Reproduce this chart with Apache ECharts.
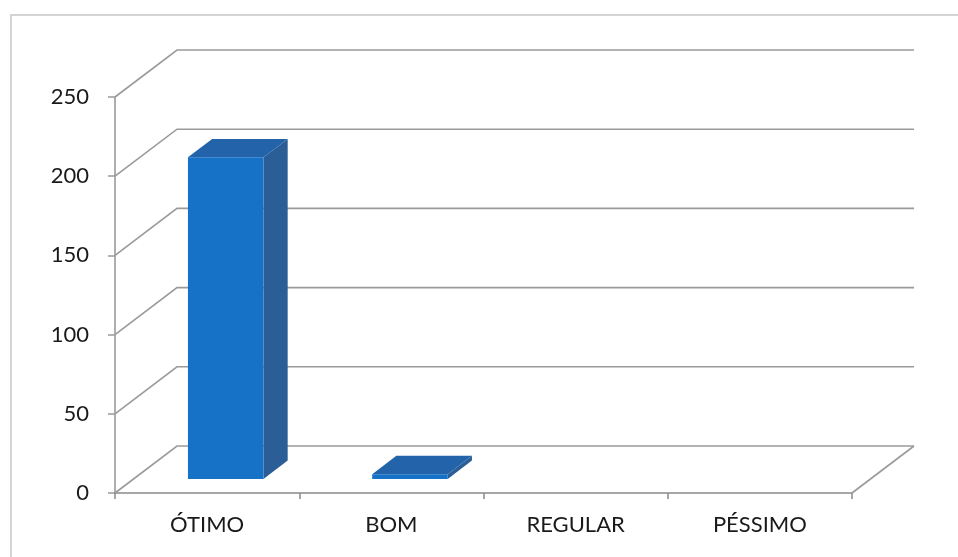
<!DOCTYPE html>
<html>
<head>
<meta charset="utf-8">
<script src="https://cdn.jsdelivr.net/npm/echarts@6/dist/echarts.min.js"></script>
<style>
html,body{margin:0;padding:0;background:#fff;}
#chart{width:958px;height:557px;}
</style>
</head>
<body>
<div id="chart"></div>
<script>
// ---- data ----
var categories = ['ÓTIMO', 'BOM', 'REGULAR', 'PÉSSIMO'];
var values = [203, 3, 0, 0];
var yTicks = [0, 50, 100, 150, 200, 250];

// ---- 3D look (styling constants) ----
var DX = 62, DY = -47;       // depth offset of back wall
var F0 = 0.30, F1 = 0.69;    // bar depth position (fraction of depth)
var BAR_W = 0.41;            // bar width as fraction of category band
var gridColor = '#9a9a9a';

var chart = echarts.init(document.getElementById('chart'));

function wallItem(params, api) {
  var cs = params.coordSys;
  var v = api.value(0);
  var y = api.coord([0, v])[1];
  var x0 = cs.x, x1 = cs.x + cs.width;
  var children = [{
    type: 'polyline',
    shape: { points: [[x0, y], [x0 + DX, y + DY], [x1 + DX, y + DY]] },
    style: { stroke: gridColor, lineWidth: 1.6, fill: null }
  }];
  if (v === 0) {
    children.push({
      type: 'line',
      shape: { x1: x1, y1: y, x2: x1 + DX, y2: y + DY },
      style: { stroke: gridColor, lineWidth: 1.6 }
    });
  }
  return { type: 'group', children: children };
}

function barItem(params, api) {
  var idx = api.value(0), v = api.value(1);
  if (!(v > 0)) return null;
  var base = api.coord([idx, 0]);
  var top = api.coord([idx, v]);
  var band = api.size([1, 0])[0];
  var w = band * BAR_W;
  var L = base[0] - w / 2 + F0 * DX;
  var R = L + w;
  var yb = base[1] + F0 * DY;
  var yt = top[1] + F0 * DY;
  var ddx = (F1 - F0) * DX, ddy = (F1 - F0) * DY;
  return {
    type: 'group',
    children: [
      { type: 'polygon', shape: { points: [[R, yb], [R + ddx, yb + ddy], [R + ddx, yt + ddy], [R, yt]] },
        style: { fill: '#2b5e96' } },
      { type: 'polygon', shape: { points: [[L, yt], [R, yt], [R + ddx, yt + ddy], [L + ddx, yt + ddy]] },
        style: { fill: '#2263aa' } },
      { type: 'polygon', shape: { points: [[L, yb], [R, yb], [R, yt], [L, yt]] },
        style: { fill: '#1672c7' } }
    ]
  };
}

var option = {
  backgroundColor: '#ffffff',
  animation: false,
  textStyle: { fontFamily: 'Lato' },
  graphic: [{
    type: 'rect', z: -10,
    shape: { x: 11, y: 15, width: 1000, height: 600 },
    style: { fill: null, stroke: '#d4d4d4', lineWidth: 2 }
  }],
  grid: { left: 115, top: 97, width: 737, height: 396 },
  xAxis: {
    type: 'category',
    data: categories,
    axisLine: { lineStyle: { color: '#8a8a8a', width: 1.6 } },
    axisTick: { show: true, length: 6, lineStyle: { color: '#8a8a8a', width: 1.5 } },
    axisLabel: { color: '#1a1a1a', fontSize: 22, margin: 21, fontFamily: 'Lato' },
    splitLine: { show: false }
  },
  yAxis: {
    type: 'value',
    min: 0, max: 250, interval: 50,
    axisLine: { show: true, lineStyle: { color: '#9a9a9a', width: 1.6 } },
    axisTick: { show: true, length: 7, lineStyle: { color: '#9a9a9a', width: 1.5 } },
    axisLabel: { color: '#1a1a1a', fontSize: 22, margin: 26, fontFamily: 'Lato' },
    splitLine: { show: false }
  },
  series: [
    {
      type: 'custom',
      renderItem: wallItem,
      data: yTicks.map(function (t) { return [t]; }),
      encode: { y: 0 },
      z: 1,
      silent: true
    },
    {
      type: 'custom',
      renderItem: barItem,
      data: values.map(function (v, i) { return [i, v]; }),
      encode: { x: 0, y: 1 },
      z: 5
    }
  ]
};
chart.setOption(option);
</script>
</body>
</html>
